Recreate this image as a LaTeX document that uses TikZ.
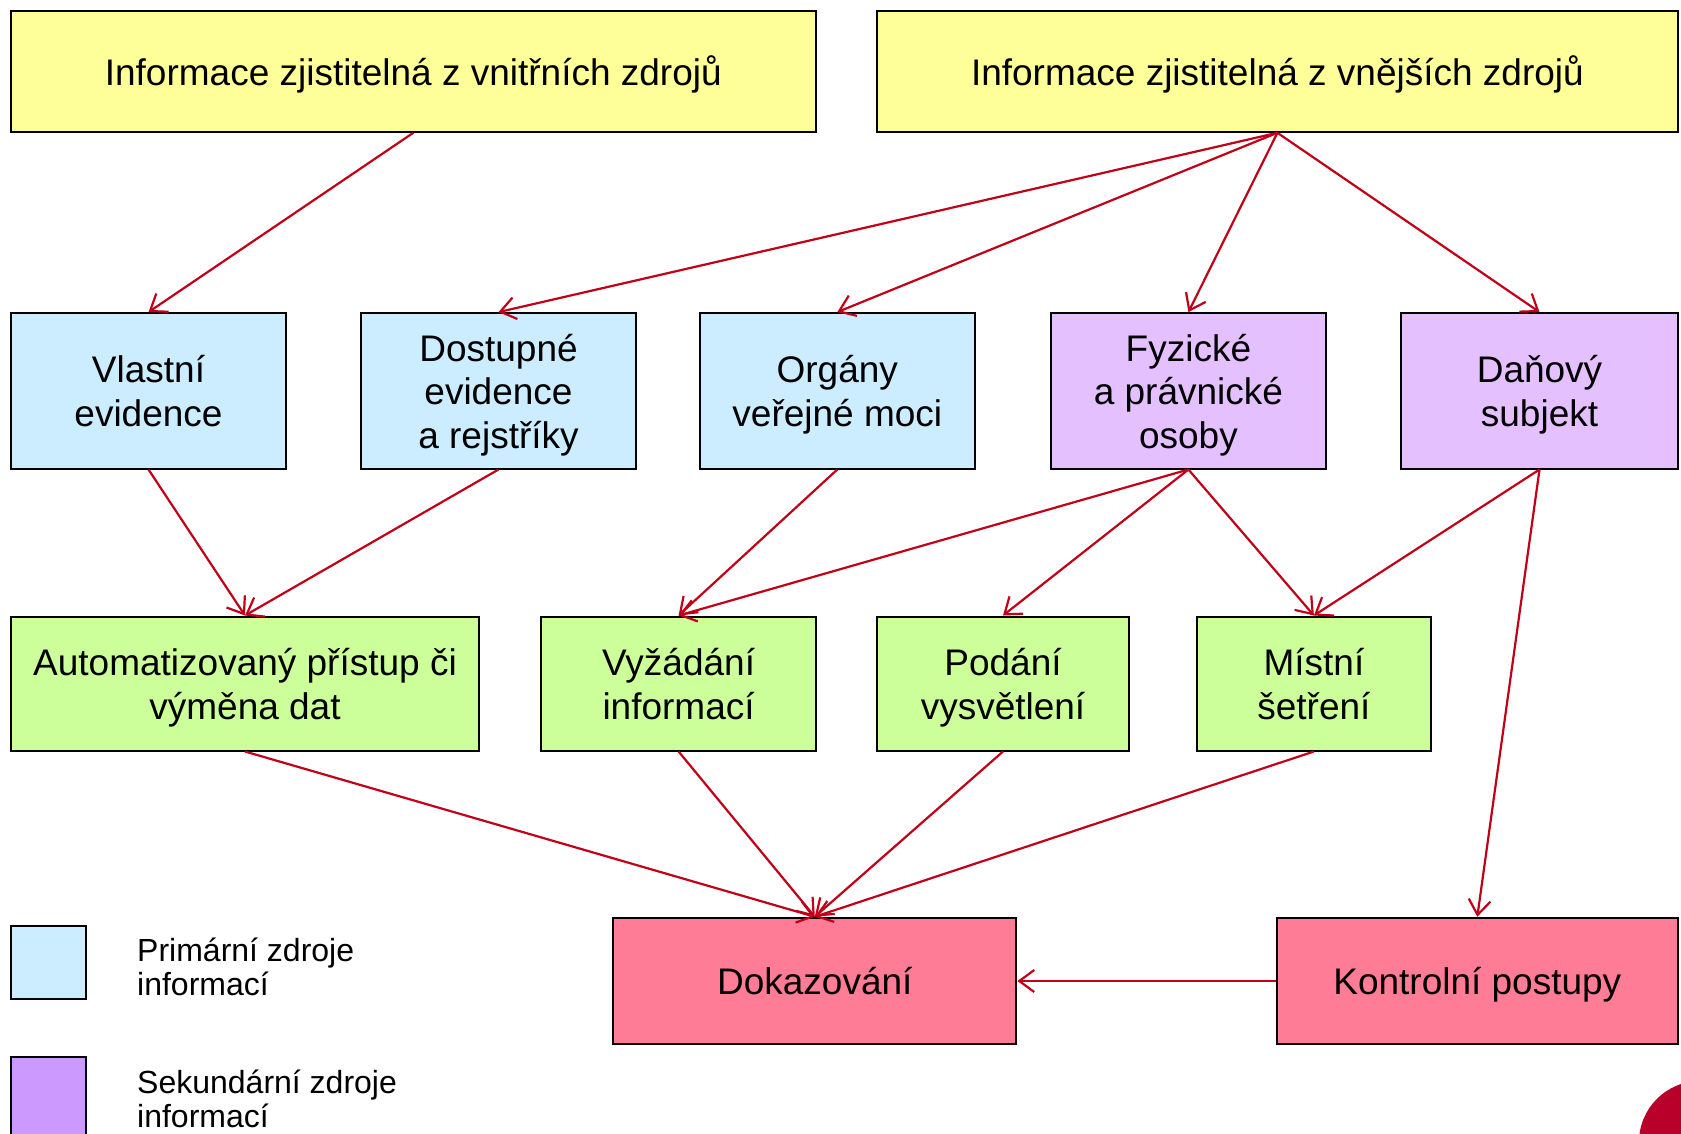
\documentclass[tikz,border=0pt]{standalone}
\usepackage{fontspec}
\setmainfont{Liberation Sans}
\usetikzlibrary{arrows.meta}
\definecolor{cyel}{HTML}{FFFF99}
\definecolor{cblue}{HTML}{CCECFF}
\definecolor{cpurp}{HTML}{E5C0FF}
\definecolor{clegp}{HTML}{CC99FF}
\definecolor{cgreen}{HTML}{CCFF99}
\definecolor{cpink}{HTML}{FF7C96}
\definecolor{carrow}{HTML}{C00018}
\definecolor{ccirc}{HTML}{B8002A}
\newcommand{\tstart}{\rule{0pt}{40.5pt}}
\newcommand{\tend}{\rule[-13pt]{0pt}{13pt}}
\begin{document}
\begin{tikzpicture}[x=1pt,y=-1pt,
  box/.style={draw=black, line width=2pt, rectangle, align=center, inner sep=2pt,
    font=\fontsize{37}{43.5}\selectfont},
  arr/.style={draw=carrow, line width=2.2pt, -{Straight Barb[length=15pt,width=22pt]}},
  legtext/.style={align=left, anchor=west, inner sep=0pt, font=\fontsize{32}{34.5}\selectfont}]
\useasboundingbox (0,0) rectangle (1681,1133);
\fill[white] (0,0) rectangle (1681,1133);
% top row
\node[box, fill=cyel, minimum width=805, minimum height=121] (yl) at (413.3,71.3) {\tstart Informace zjistitelná z vnitřních zdrojů\tend};
\node[box, fill=cyel, minimum width=801, minimum height=121] (yr) at (1277.4,71.3) {\tstart Informace zjistitelná z vnějších zdrojů\tend};
% second row
\node[box, fill=cblue, minimum width=275.5, minimum height=155.4] (vl) at (148.5,390.8) {\tstart Vlastní\\evidence\tend};
\node[box, fill=cblue, minimum width=274.5, minimum height=155.4] (do) at (498.5,390.8) {\tstart Dostupné\\evidence\\a rejstříky\tend};
\node[box, fill=cblue, minimum width=274.4, minimum height=155.4] (or) at (837.3,390.8) {\tstart Orgány\\veřejné moci\tend};
\node[box, fill=cpurp, minimum width=275.5, minimum height=155.4] (fy) at (1188.4,390.8) {\tstart Fyzické\\a právnické\\osoby\tend};
\node[box, fill=cpurp, minimum width=276.6, minimum height=155.4] (da) at (1539.5,390.8) {\tstart Daňový\\subjekt\tend};
% third row
\node[box, fill=cgreen, minimum width=468.5, minimum height=134] (au) at (245,683.5) {\tstart Automatizovaný přístup či\\výměna dat\tend};
\node[box, fill=cgreen, minimum width=274.5, minimum height=134] (vy) at (678.6,683.5) {\tstart Vyžádání\\informací\tend};
\node[box, fill=cgreen, minimum width=252, minimum height=134] (po) at (1003,683.5) {\tstart Podání\\vysvětlení\tend};
\node[box, fill=cgreen, minimum width=234.8, minimum height=134] (mi) at (1313.9,683.5) {\tstart Místní\\šetření\tend};
% fourth row
\node[box, fill=cpink, minimum width=403.2, minimum height=126.5] (dk) at (814.8,981) {\tstart Dokazování\tend};
\node[box, fill=cpink, minimum width=401, minimum height=126.5] (ko) at (1477.3,981) {\tstart Kontrolní postupy\tend};
% legend
\node[box, fill=cblue, minimum width=75, minimum height=73] (lg1) at (48.4,962.5) {};
\node[box, fill=clegp, minimum width=75, minimum height=80] (lg2) at (48.4,1097) {};
\node[legtext] (lt1) at (137,967) {Primární zdroje\\informací};
\node[legtext] (lt2) at (137,1099) {Sekundární zdroje\\informací};
% corner circle
\fill[ccirc] (1700,1142) circle (61);
% connectors
\draw[arr] (yl.south) -- (vl.north);
\draw[arr] (yr.south) -- (do.north);
\draw[arr] (yr.south) -- (or.north);
\draw[arr] (yr.south) -- (fy.north);
\draw[arr] (yr.south) -- (da.north);
\draw[arr] (vl.south) -- (au.north);
\draw[arr] (do.south) -- (au.north);
\draw[arr] (or.south) -- (vy.north);
\draw[arr] (fy.south) -- (vy.north);
\draw[arr] (fy.south) -- (po.north);
\draw[arr] (fy.south) -- (mi.north);
\draw[arr] (da.south) -- (mi.north);
\draw[arr] (da.south) -- (ko.north);
\draw[arr] (au.south) -- (dk.north);
\draw[arr] (vy.south) -- (dk.north);
\draw[arr] (po.south) -- (dk.north);
\draw[arr] (mi.south) -- (dk.north);
\draw[arr] (ko.west) -- (dk.east);
\end{tikzpicture}
\end{document}
